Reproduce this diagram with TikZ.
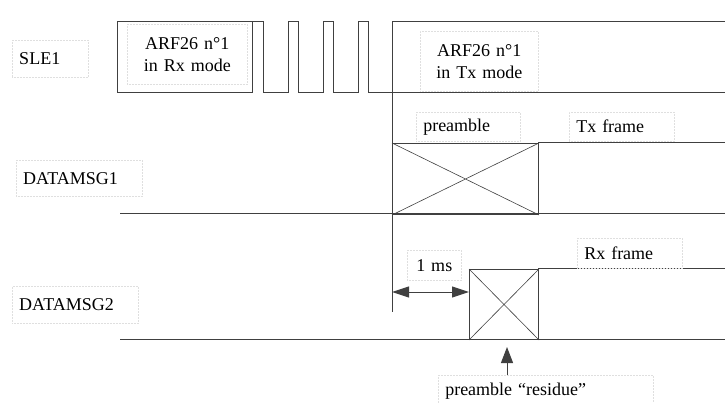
\documentclass[tikz,border=0pt]{standalone}
\usepackage{fontspec}
\setmainfont{Liberation Serif}
\usetikzlibrary{arrows.meta}

\tikzset{
  wave/.style={draw=black!75, line width=1pt},
  tbox/.style={draw=gray!25, densely dotted, line width=0.5pt, anchor=north west,
    inner xsep=7pt, inner ysep=0pt, font=\fontsize{18}{22}\selectfont},
  xbox/.style={wave, anchor=north west, inner sep=0pt},
}

\begin{document}
\begin{tikzpicture}[x=1pt, y=-1pt, >={Triangle[length=17pt, width=11pt]}]
\useasboundingbox (0,0) rectangle (725,403);

% SLE1: Rx window, pulses, then Tx window
\draw[wave] (117,22) rectangle (252,93);
\draw[wave] (252,22) -- (263,22) -- (263,93);
\foreach \p in {288,323,358}
  \draw[wave] (\p-25,93) -- (\p,93) -- (\p,22) -- (\p+10,22) -- (\p+10,93);
\draw[wave] (368,93) -- (725,93);
\draw[wave] (392,93) -- (392,22) -- (725,22);
\draw[wave] (392,93) -- (392,312);
\coordinate (mark) at (392,292);

% DATAMSG1
\draw[wave] (120,214) -- (725,214);
\draw[wave] (538,143) -- (725,143);
\node[xbox, minimum width=146pt, minimum height=71pt] (pre1) at (392,143) {};
\draw[draw=black!75, line width=0.6pt] (pre1.north west) -- (pre1.south east)
  (pre1.south west) -- (pre1.north east);

% DATAMSG2
\draw[wave] (120,339) -- (725,339);
\draw[wave] (538,269) -- (725,269);
\node[xbox, minimum width=69pt, minimum height=70pt] (res) at (469,269) {};
\draw[draw=black!75, line width=0.6pt] (res.north west) -- (res.south east)
  (res.south west) -- (res.north east);

% labels
\node[tbox, text width=62pt, minimum height=37pt, align=left] (sle) at (12,40) {SLE1};
\node[tbox, text width=106pt, minimum height=60pt, align=center] (rxmode) at (127,24) {ARF26 n°1\\in Rx mode};
\node[tbox, text width=104pt, minimum height=60pt, align=center] (txmode) at (420,31) {ARF26 n°1\\in Tx mode};
\node[tbox, text width=90pt, minimum height=29pt, align=left] (prelbl) at (416,112) {preamble};
\node[tbox, text width=91pt, minimum height=29pt, align=left] (txfr) at (569,112) {Tx frame};
\node[tbox, text width=112pt, minimum height=36pt, align=left] (dm1) at (16,160) {DATAMSG1};
\node[tbox, text width=91pt, minimum height=30pt, align=left] (rxfr) at (577,238) {Rx frame};
\node[tbox, text width=40pt, minimum height=30pt, align=center] (onems) at (407,250) {1 ms};
\node[tbox, text width=112pt, minimum height=37pt, align=left] (dm2) at (12,286) {DATAMSG2};
\node[tbox, text width=201pt, minimum height=32pt, align=left] (resid) at (438,375) {preamble “residue”};

% arrows
\draw[draw=black!75, line width=1pt, <->] (mark) -- (res.west |- mark);
\coordinate (tip) at (507,347);
\draw[draw=black!75, line width=1pt, -{Triangle[length=16pt, width=12pt]}] (resid.north -| tip) -- (tip);
\end{tikzpicture}
\end{document}
